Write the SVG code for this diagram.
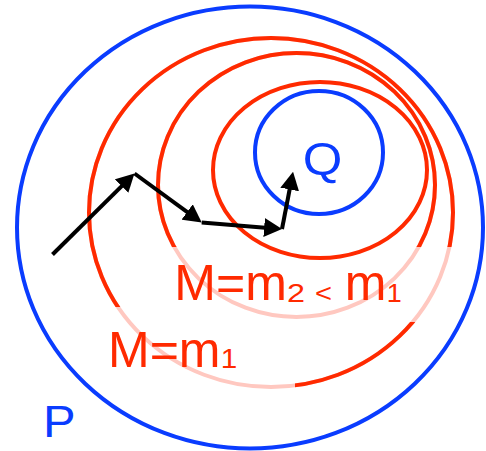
<svg xmlns="http://www.w3.org/2000/svg" width="486" height="451" viewBox="0 0 486 451">
<style>
.blue{fill:none;stroke:#0a3cff;stroke-width:4}
.red{fill:none;stroke:#ff2a00;stroke-width:4}
.faint{fill:none;stroke:#ffc8c0;stroke-width:4}
.arrow{fill:none;stroke:#000;stroke-width:4;marker-end:url(#ah)}
text{font-family:"Liberation Sans",Arial,sans-serif}
.rt{fill:#ff2a00}
.bt{fill:#0a3cff}
</style>
<defs>
<marker id="ah" markerUnits="userSpaceOnUse" markerWidth="18" markerHeight="19" viewBox="0 0 18 19" refX="4" refY="9.5" orient="auto">
<path d="M0,0 L18,9.5 L0,19 z" fill="#000"/>
</marker>
<mask id="lbl" maskUnits="userSpaceOnUse" x="0" y="0" width="486" height="451">
<rect x="0" y="0" width="486" height="451" fill="#fff"/>
<rect x="160" y="247" width="300" height="75" fill="#000"/>
<rect x="95" y="307" width="200" height="85" fill="#000"/>
</mask>
</defs>
<g id="region-P">
<ellipse class="blue" cx="250" cy="227.5" rx="233" ry="221"/>
<text class="bt" x="42.9" y="436.7" font-size="44" textLength="32.6" lengthAdjust="spacingAndGlyphs">P</text>
</g>
<g id="level-m1">
<ellipse class="faint" cx="271" cy="212.5" rx="182" ry="174.5"/>
<ellipse class="red" cx="271" cy="212.5" rx="182" ry="174.5" mask="url(#lbl)"/>
</g>
<g id="level-m2">
<ellipse class="faint" cx="296.5" cy="185" rx="138.5" ry="132"/>
<ellipse class="red" cx="296.5" cy="185" rx="138.5" ry="132" mask="url(#lbl)"/>
</g>
<g id="level-inner">
<ellipse class="red" cx="320" cy="170" rx="107" ry="88"/>
</g>
<g id="region-Q">
<ellipse class="blue" cx="319" cy="152.5" rx="64" ry="61.5"/>
<text class="bt" x="302.7" y="174.5" font-size="46" textLength="39.6" lengthAdjust="spacingAndGlyphs">Q</text>
</g>
<g id="connectors">
<line class="arrow" x1="52.5" y1="254.5" x2="124.5" y2="183.3"/>
<line class="arrow" x1="134.5" y1="173.5" x2="190.4" y2="214.3"/>
<line class="arrow" x1="201.7" y1="222.5" x2="268.1" y2="227.9"/>
<line class="arrow" x1="282" y1="229" x2="290.4" y2="185.5"/>
</g>
<g id="label-m2">
<text class="rt" x="174.3" y="300" font-size="50">M=m</text>
<text class="rt" x="287" y="301.7" font-size="26" textLength="18" lengthAdjust="spacingAndGlyphs">2</text>
<text class="rt" x="315" y="302" font-size="26" textLength="17" lengthAdjust="spacingAndGlyphs">&lt;</text>
<text class="rt" x="344.8" y="300" font-size="50">m</text>
<text class="rt" x="386.8" y="302" font-size="26" textLength="15" lengthAdjust="spacingAndGlyphs">1</text>
</g>
<g id="label-m1">
<text class="rt" x="108" y="366.7" font-size="50">M=m</text>
<text class="rt" x="220.8" y="368" font-size="28" textLength="16.5" lengthAdjust="spacingAndGlyphs">1</text>
</g>
</svg>
